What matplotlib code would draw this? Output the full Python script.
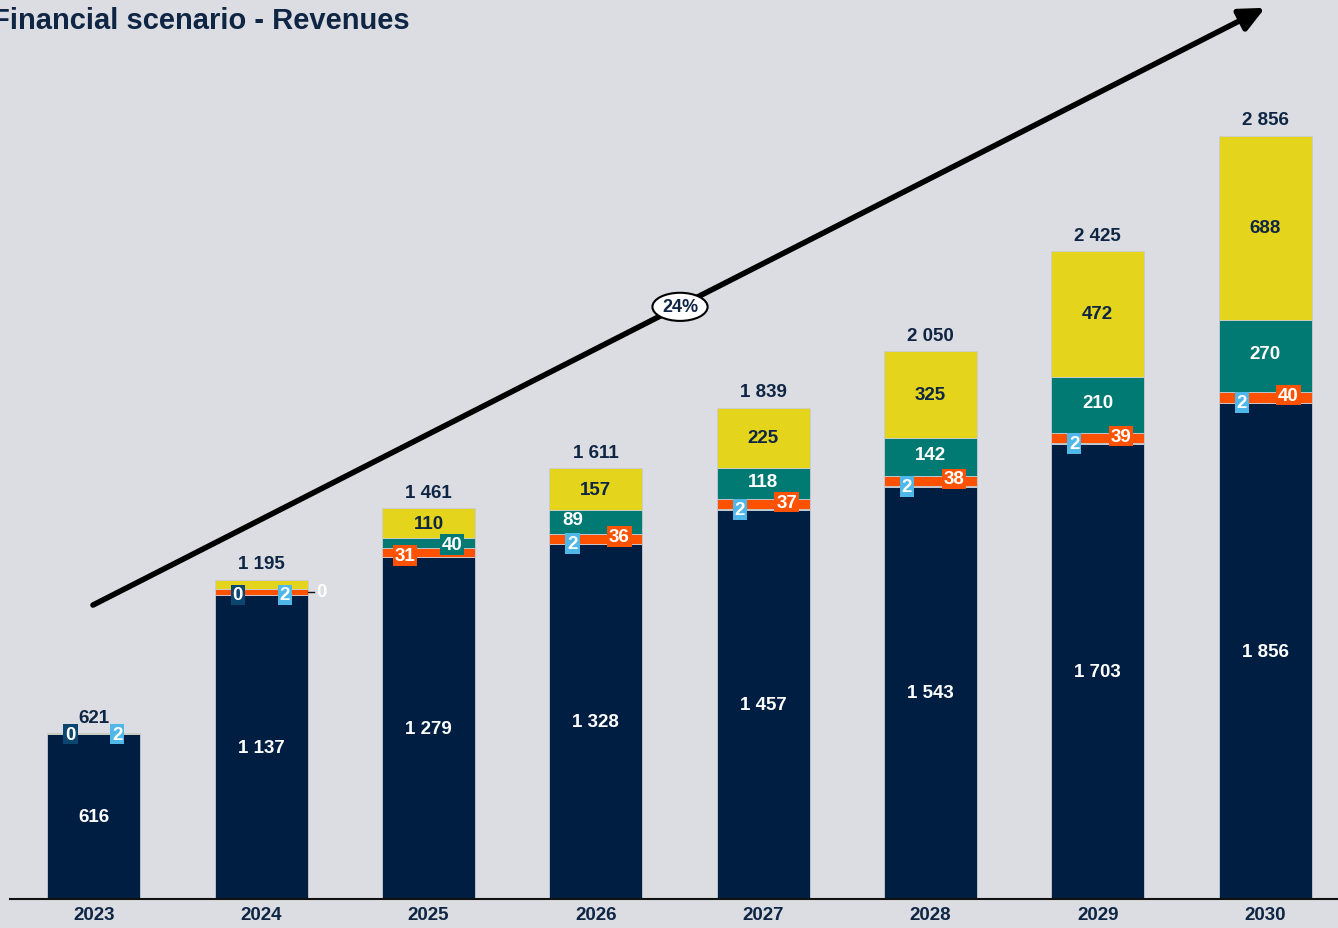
"""Financial scenario - Revenues: stacked bars 2023-2030 with CAGR arrow."""
import matplotlib
matplotlib.use("Agg")
import matplotlib.pyplot as plt
import numpy as np

plt.rcParams["font.family"] = ["Liberation Sans", "DejaVu Sans"]

years = ["2023", "2024", "2025", "2026", "2027", "2028", "2029", "2030"]
core = [616, 1137, 1279, 1328, 1457, 1543, 1703, 1856]
small = [2, 2, 2, 2, 2, 2, 2, 2]
orange = [0, 22, 31, 36, 37, 38, 39, 40]
teal = [0, 0, 40, 89, 118, 142, 210, 270]
yellow = [3, 34, 110, 157, 225, 325, 472, 688]
totals = [621, 1195, 1461, 1611, 1839, 2050, 2425, 2856]
other = [0, 0]          # extra series shown only in 2023-2024
cagr = "24%"

BG = "#DCDDE2"
NAVY = "#001E41"
LBLUE = "#4FB8E8"
ORANGE = "#FF5200"
TEAL = "#007A72"
YELLOW = "#E4D41C"
DBLUE = "#0A4670"
TXT = "#0E2544"

W, H = 1338, 929
fig = plt.figure(figsize=(W / 100, H / 100), dpi=100, facecolor=BG)
ax = fig.add_axes([10 / W, 29 / H, 1 - 10 / W, 900 / H], facecolor=BG)

x = np.arange(len(years))
bw = 0.556
series = [(core, NAVY), (small, LBLUE), (orange, ORANGE), (teal, TEAL), (yellow, YELLOW)]
bottom = np.zeros(len(years))
bottoms = []
for vals, col in series:
    v = np.array(vals, dtype=float)
    ax.bar(x, v, bw, bottom=bottom, color=col, edgecolor="#C9CCD3", linewidth=0.6, zorder=2)
    bottoms.append(bottom.copy())
    bottom = bottom + v

ax.set_xlim(-0.502, 7.436)
ax.set_ylim(0, 3368)
for s in ("left", "right", "top"):
    ax.spines[s].set_visible(False)
ax.spines["bottom"].set_linewidth(1.5)
ax.spines["bottom"].set_color("#111111")
ax.set_yticks([])
ax.set_xticks(x)
ax.set_xticklabels(years, fontsize=13.5, fontweight="bold", color=TXT)
ax.tick_params(axis="x", length=0, pad=5)

dx = 0.14
fs = 13.5


def box(xx, yy, txt, fc):
    ax.text(xx, yy, txt, ha="center", va="center", fontsize=fs, fontweight="bold",
            color="white", zorder=5,
            bbox=dict(boxstyle="square,pad=0.1", fc=fc, ec="none"))


for i in range(len(years)):
    ax.text(x[i], totals[i] + 28, f"{totals[i]:,}".replace(",", " "), ha="center",
            va="bottom", fontsize=fs, fontweight="bold", color=TXT, zorder=5)
    ax.text(x[i], core[i] / 2, f"{core[i]:,}".replace(",", " "), ha="center", va="center",
            fontsize=fs, fontweight="bold", color="white", zorder=5)
    y_small = bottoms[1][i] + small[i] / 2
    y_or = bottoms[2][i] + orange[i] / 2
    y_te = bottoms[3][i] + teal[i] / 2
    y_ye = bottoms[4][i] + yellow[i] / 2
    if i < len(other):
        box(x[i] - dx, y_small, str(other[i]), DBLUE)
        box(x[i] + dx, y_small, str(small[i]), LBLUE)
        if teal[i] == 0 and i == 1:
            ax.plot([x[i] + bw / 2, x[i] + bw / 2 + 0.04], [y_or, y_or], color="#111111",
                    lw=1, zorder=4)
            ax.text(x[i] + bw / 2 + 0.05, y_or, "0", ha="left", va="center", fontsize=fs,
                    fontweight="bold", color="white", zorder=5)
        continue
    if i == 2:
        box(x[i] - dx, y_or - 12, str(orange[i]), ORANGE)
        box(x[i] + dx, y_te - 5, str(teal[i]), TEAL)
    else:
        box(x[i] - dx, y_small, str(small[i]), LBLUE)
        box(x[i] + dx, y_or + 8, str(orange[i]), ORANGE)
        tx = x[i] - dx if i == 3 else x[i]
        ax.text(tx, y_te + 8, str(teal[i]), ha="center", va="center", fontsize=fs,
                fontweight="bold", color="white", zorder=5)
    ax.text(x[i], y_ye, str(yellow[i]), ha="center", va="center", fontsize=fs,
            fontweight="bold", color=TXT, zorder=5)

# growth arrow
ax.annotate("", xy=(7.0, 3335), xytext=(-0.006, 1100), zorder=6,
            arrowprops=dict(arrowstyle="-|>,head_length=1.5,head_width=0.7",
                            color="black", lw=4, shrinkA=0, shrinkB=0))
ax.text(3.503, 2216, cagr, ha="center", va="center", fontsize=13, fontweight="bold",
        color=TXT, zorder=7,
        bbox=dict(boxstyle="ellipse,pad=0.08", fc="white", ec="black", lw=1.5))

fig.text(-8 / W, 1 - 29 / H, "Financial scenario - Revenues", ha="left", va="baseline",
         fontsize=21, fontweight="bold", color=TXT)

fig.savefig("out.png", dpi=100, facecolor=BG)
